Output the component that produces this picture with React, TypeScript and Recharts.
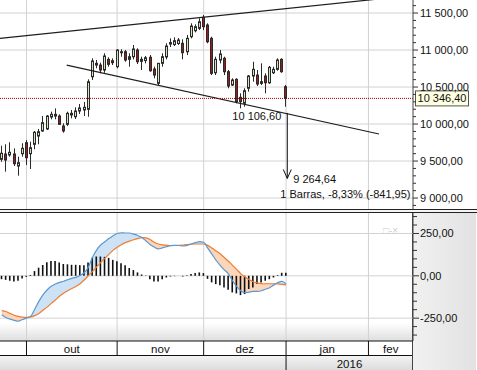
import React from 'react';
import { ComposedChart, Bar, Line, Area, XAxis, YAxis, CartesianGrid, ReferenceLine } from 'recharts';

// trading day index, 0 = 1 Oct 2015
const days = [
  -6, -5, -4, -3, -2, -1, 0, 1, 2, 3, 4, 5, 6, 7, 8, 9, 10, 11, 12, 13, 14, 15, 16, 17, 18, 19, 20, 21, 22, 23,
  24, 25, 26, 27, 28, 29, 30, 31, 32, 33, 34, 35, 36, 37, 38, 39, 40, 41, 42, 43, 44, 45, 46, 47, 48, 49, 50, 51,
  52, 53, 54, 55, 56, 57, 58, 59, 60, 61, 62, 63,
];
const opens = [
  9523, 9595, 9582, 9595, 9433, 9599, 9748, 9599, 9726, 9838, 9906, 9933, 10095, 10108, 10108, 9973, 9996, 10122,
  10099, 10176, 10190, 10199, 10639, 10797, 10797, 10730, 10874, 10829, 10775, 10964, 10977, 10874, 10910, 11000,
  10847, 10858, 10902, 10743, 10550, 10820, 10906, 11081, 11074, 11088, 11091, 10977, 11180, 11261, 11293, 11442,
  11338, 11158, 10693, 10865, 10888, 10707, 10527, 10604, 10361, 10280, 10483, 10649, 10662, 10572, 10649, 10558,
  10693, 10739, 10874, 10504,
];
const highs = [
  9707, 9726, 9753, 9672, 9559, 9740, 9784, 9761, 9906, 9933, 10108, 10122, 10167, 10212, 10131, 10010, 10167,
  10190, 10226, 10271, 10298, 10604, 10888, 10865, 10829, 10956, 10902, 10888, 11010, 11010, 11000, 10956, 11068,
  11023, 10910, 10919, 10933, 10775, 10825, 10956, 11091, 11158, 11172, 11162, 11145, 11203, 11361, 11347, 11428,
  11473, 11361, 11180, 10910, 11000, 10910, 10730, 10618, 10618, 10415, 10483, 10662, 10842, 10730, 10820, 10685,
  10784, 10775, 10888, 10888, 10527,
];
const lows = [
  9491, 9356, 9559, 9433, 9302, 9559, 9446, 9392, 9659, 9726, 9896, 9919, 10064, 10064, 9987, 9883, 9973, 10077,
  10068, 10136, 10108, 10099, 10595, 10753, 10685, 10693, 10775, 10797, 10753, 10910, 10842, 10775, 10874, 10811,
  10730, 10820, 10707, 10618, 10518, 10775, 10874, 11041, 11054, 11068, 10874, 10933, 11158, 11239, 11270, 11270,
  11091, 10662, 10662, 10820, 10662, 10483, 10514, 10280, 10212, 10234, 10437, 10572, 10514, 10527, 10415, 10541,
  10676, 10720, 10693, 10234,
];
const closes = [
  9605, 9514, 9618, 9464, 9478, 9672, 9545, 9680, 9888, 9896, 10018, 10108, 10131, 10131, 9996, 9906, 10145, 10145,
  10176, 10217, 10226, 10572, 10852, 10820, 10730, 10919, 10807, 10856, 11000, 10977, 10865, 10910, 11014, 10842,
  10874, 10896, 10720, 10662, 10820, 10910, 11054, 11101, 11126, 11135, 10964, 11158, 11324, 11315, 11382, 11315,
  11112, 10685, 10874, 10946, 10707, 10514, 10595, 10302, 10302, 10450, 10649, 10739, 10541, 10550, 10558, 10766,
  10739, 10865, 10707, 10346.4,
];
const macdLine = [
  -230, -246, -256, -263, -268, -258, -250, -240, -197, -151, -112, -84, -62, -48, -39, -32, -23, -15, -9, 2, 18, 51,
  108, 152, 182, 201, 220, 237, 250, 254, 253, 253, 246, 238, 226, 206, 185, 170, 159, 165, 172, 178, 180, 179, 176,
  180, 188, 196, 202, 198, 163, 128, 92, 62, 35, 12, -29, -63, -88, -100, -96, -92, -92, -88, -79, -70, -55, -40,
  -33, -48,
];
const signalLine = [
  -206, -211, -222, -233, -240, -244, -245, -243, -235, -222, -203, -185, -163, -143, -121, -103, -88, -75, -63, -47,
  -25, 0, 25, 52, 78, 103, 127, 150, 169, 184, 196, 205, 213, 220, 226, 224, 214, 198, 188, 183, 181, 179, 179, 180,
  182, 184, 187, 188, 188, 188, 180, 164, 147, 130, 108, 86, 62, 38, 13, -6, -22, -35, -42, -46, -47, -47, -47, -48,
  -50, -53,
];
const histogram = [
  -20, -24, -29, -33, -29, -16, -6, 5, 28, 48, 64, 80, 88, 88, 78, 70, 68, 65, 65, 63, 63, 78, 106, 114, 114, 112,
  106, 94, 86, 74, 62, 46, 34, 20, 8, 2, -20, -33, -33, -20, -10, -4, -2, 0, -4, 4, 10, 16, 20, 16, -18, -39, -49,
  -55, -69, -82, -98, -104, -114, -108, -78, -69, -49, -39, -29, -20, -10, 4, 18, 18,
];

const monthStarts = [0, 22, 43, 63, 83];
const monthLabels = ['out', 'nov', 'dez', 'jan', 'fev'];
const yearStarts = [63];
const yearLabels = ['2016'];
const priceGrid = [9000, 9500, 10000, 10500, 11000, 11500];
const priceTicks = [
  8900, 9000, 9100, 9200, 9300, 9400, 9500, 9600, 9700, 9800, 9900, 10000, 10100, 10200, 10300, 10400, 10500,
  10600, 10700, 10800, 10900, 11000, 11100, 11200, 11300, 11400, 11500, 11600,
];
const macdGrid = [-250, 0, 250];
const macdTicks = [-350, -300, -250, -200, -150, -100, -50, 0, 50, 100, 150, 200, 250, 300, 350];

const upperTrend = [{ x: -6.43, y: 11158 }, { x: 93.8, y: 11738 }];
const lowerTrend = [{ x: 9.76, y: 10797 }, { x: 85.56, y: 9865 }];
const lastClose = 10346.4;
const measureDay = 63.3;
const measureTop = 10150;
const measureBottom = 9264.64;
const measureStartLabel = '10 106,60';
const measureEndLabel = '9 264,64';
const measureInfo = '1 Barras, -8,33% (-841,95)';

const xDomain = [-6.43, 93.81];
const priceDomain = [8852, 11676];
const macdDomain = [-385, 371];

const FONT = '"Liberation Sans", Arial, sans-serif';

const candles = days.map((d, k) => ({ i: d, open: opens[k], high: highs[k], low: lows[k], close: closes[k] }));
const macdRows = days.map((d, k) => ({ i: d, macd: macdLine[k], signal: signalLine[k], hist: histogram[k] }));

const lastEdge = (k: number) => (k + 1 < monthStarts.length ? monthStarts[k + 1] : xDomain[1]);
const monthMids = monthStarts.map((s, k) => (s + lastEdge(k)) / 2);
const yearMids = yearStarts.map((s, k) => (s + (yearStarts[k + 1] ?? xDomain[1])) / 2);
const tableTicks = [...monthStarts, ...monthMids, ...yearMids];

const fmt = (v: number) => {
  const [int, dec] = Math.abs(v).toFixed(2).split('.');
  return (v < 0 ? '-' : '') + int.replace(/\B(?=(\d{3})+(?!\d))/g, ' ') + ',' + dec;
};

const Candle = (props: any) => {
  const { x, y, width, height, payload } = props;
  if (height == null || !payload) return null;
  const top = Math.min(y, y + height);
  const h = Math.abs(height);
  const range = payload.high - payload.low || 1;
  const ppu = h / range;
  const yO = top + (payload.high - payload.open) * ppu;
  const yC = top + (payload.high - payload.close) * ppu;
  const up = payload.close >= payload.open;
  const cx = Math.floor(x + width / 2);
  const bTop = Math.min(yO, yC);
  const bH = Math.max(Math.abs(yO - yC), 1);
  return (
    <g>
      <line x1={cx + 0.5} x2={cx + 0.5} y1={top} y2={top + h} stroke="#2a2a2a" strokeWidth={1} />
      <rect x={cx - 0.5} y={bTop} width={2} height={bH} fill={up ? '#cfe6bd' : '#9c1c1c'} stroke="#2a2a2a" strokeWidth={1} />
    </g>
  );
};

const PriceTick = (props: any) => {
  const { x, y, payload } = props;
  const v = payload.value;
  const major = v % 500 === 0;
  return (
    <g>
      <line x1={x} x2={x + (major ? 5 : 3)} y1={y} y2={y} stroke="#333" />
      {major && (
        <text x={x + 7} y={y} dy={4} fontSize={11} fontFamily={FONT} fill="#111">
          {fmt(v)}
        </text>
      )}
    </g>
  );
};

const MacdTick = (props: any) => {
  const { x, y, payload } = props;
  const v = payload.value;
  const major = v % 250 === 0;
  return (
    <g>
      <line x1={x} x2={x + (major ? 6 : 4)} y1={y} y2={y} stroke="#333" />
      {major && (
        <text x={x + 7} y={y} dy={4} fontSize={11} fontFamily={FONT} fill="#111">
          {fmt(v)}
        </text>
      )}
    </g>
  );
};

const TableTick = (props: any) => {
  const { x, y, payload } = props;
  const v = payload.value;
  const mi = monthMids.indexOf(v);
  const yi = yearMids.indexOf(v);
  if (mi >= 0) {
    return (
      <text x={x} y={y + 12} textAnchor="middle" fontSize={11.5} fontFamily={FONT} fill="#111">
        {monthLabels[mi]}
      </text>
    );
  }
  if (yi >= 0) {
    return (
      <text x={x} y={y + 26.5} textAnchor="middle" fontSize={11.5} fontFamily={FONT} fill="#111">
        {yearLabels[yi]}
      </text>
    );
  }
  const full = yearStarts.includes(v);
  return <line x1={x} x2={x} y1={y} y2={y + (full ? 29 : 15)} stroke="#111" />;
};

const PriceTag = (props: any) => {
  const vb = props.viewBox;
  if (!vb) return null;
  const left = vb.x + vb.width + 2;
  return (
    <g>
      <rect x={left + 0.5} y={vb.y - 7.5} width={53} height={15} fill="#ffffe1" stroke="#555" />
      <text x={left + 27} y={vb.y + 4} textAnchor="middle" fontSize={11} fontFamily={FONT} fill="#111">
        {fmt(lastClose)}
      </text>
    </g>
  );
};

const Measure = (props: any) => {
  const { x1, y1, y2 } = props;
  if (x1 == null) return null;
  const top = Math.min(y1, y2);
  const bottom = Math.max(y1, y2);
  return (
    <g>
      <line x1={x1} x2={x1} y1={top} y2={bottom} stroke="#111" />
      <polyline points={`${x1 - 4},${bottom - 9} ${x1},${bottom} ${x1 + 4},${bottom - 9}`} fill="none" stroke="#111" />
      <text x={x1 - 6} y={top + 7.5} textAnchor="end" fontSize={11} fontFamily={FONT} fill="#111">
        {measureStartLabel}
      </text>
      <text x={x1 + 6} y={bottom + 5} fontSize={11} fontFamily={FONT} fill="#111">
        {measureEndLabel}
      </text>
      <text x={x1 - 7} y={bottom + 20} fontSize={11} fontFamily={FONT} fill="#111">
        {measureInfo}
      </text>
    </g>
  );
};

export default function App() {
  const margin = { top: 0, right: 0, bottom: 0, left: 0 };
  return (
    <div style={{ position: 'absolute', left: 0, top: 0, width: 477, height: 370, background: '#fff', overflow: 'hidden' }}>
      {/* backgrounds of the lower panel */}
      <div style={{ position: 'absolute', left: 413, top: 213, width: 64, height: 157, background: 'linear-gradient(to right, #f1f1f1, #e2e2e2)', borderLeft: '1px solid #444', boxSizing: 'border-box', marginLeft: -1 }} />
      <div style={{ position: 'absolute', left: 0, top: 323, width: 412, height: 18, background: 'linear-gradient(to bottom, rgba(255,255,255,0), #dedede)' }} />
      <div style={{ position: 'absolute', left: 0, top: 355, width: 412, height: 15, background: 'linear-gradient(to bottom, #f3f3f3, #dcdcdc)', borderTop: '1px solid #111', boxSizing: 'border-box' }} />
      <div style={{ position: 'absolute', left: 383, top: 225, fontSize: 10, color: '#cfcfcf', fontFamily: FONT }}>□-×</div>

      <div style={{ position: 'absolute', left: 0, top: 0 }}>
        <ComposedChart width={477} height={209} data={candles} margin={margin}>
          <CartesianGrid stroke="#d2d2d2" horizontalValues={priceGrid} verticalValues={monthStarts} />
          <XAxis dataKey="i" type="number" domain={xDomain} allowDataOverflow hide ticks={monthStarts} />
          <YAxis
            orientation="right"
            width={64}
            type="number"
            domain={priceDomain}
            allowDataOverflow
            ticks={priceTicks}
            interval={0}
            tick={<PriceTick />}
            tickLine={false}
            tickSize={0}
            tickMargin={0}
            axisLine={{ stroke: '#444' }}
          />
          <ReferenceLine segment={upperTrend} stroke="#1e1e1e" strokeWidth={1.2} ifOverflow="hidden" />
          <ReferenceLine segment={lowerTrend} stroke="#1e1e1e" strokeWidth={1.2} ifOverflow="hidden" />
          <Bar dataKey={(d: any) => [d.low, d.high]} shape={<Candle />} barSize={4} isAnimationActive={false} />
          <ReferenceLine y={lastClose} stroke="#b00000" strokeDasharray="1 1" label={<PriceTag />} />
          <ReferenceLine
            segment={[{ x: measureDay, y: measureTop }, { x: measureDay, y: measureBottom }]}
            shape={<Measure />}
            ifOverflow="visible"
          />
        </ComposedChart>
      </div>

      <div style={{ position: 'absolute', left: 0, top: 209, width: 477, height: 4, borderTop: '1px solid #222', borderBottom: '1px solid #222', boxSizing: 'border-box', background: '#f4f4f4' }} />

      <div style={{ position: 'absolute', left: 0, top: 213 }}>
        <ComposedChart width={477} height={157} data={macdRows} margin={margin}>
          <CartesianGrid stroke="#d2d2d2" horizontalValues={macdGrid} verticalValues={monthStarts} />
          <XAxis
            dataKey="i"
            type="number"
            domain={xDomain}
            allowDataOverflow
            ticks={tableTicks}
            interval={0}
            tick={<TableTick />}
            tickLine={false}
            tickSize={0}
            tickMargin={0}
            height={29}
            axisLine={{ stroke: '#111' }}
          />
          <YAxis
            orientation="right"
            width={64}
            type="number"
            domain={macdDomain}
            allowDataOverflow
            ticks={macdTicks}
            interval={0}
            tick={<MacdTick />}
            tickLine={false}
            tickSize={0}
            tickMargin={0}
            axisLine={{ stroke: '#444' }}
          />
          <Area
            type="monotone"
            dataKey={(d: any) => [d.signal, Math.max(d.macd, d.signal)]}
            fill="#cde3f5"
            fillOpacity={1}
            stroke="none"
            isAnimationActive={false}
          />
          <Area
            type="monotone"
            dataKey={(d: any) => [d.macd, Math.max(d.macd, d.signal)]}
            fill="#fcd6bb"
            fillOpacity={1}
            stroke="none"
            isAnimationActive={false}
          />
          <Bar dataKey="hist" fill="#111" barSize={1.6} isAnimationActive={false} />
          <Line type="monotone" dataKey="signal" stroke="#ee7d32" strokeWidth={1.2} dot={false} isAnimationActive={false} />
          <Line type="monotone" dataKey="macd" stroke="#5c98cf" strokeWidth={1.2} dot={false} isAnimationActive={false} />
        </ComposedChart>
      </div>
    </div>
  );
}
